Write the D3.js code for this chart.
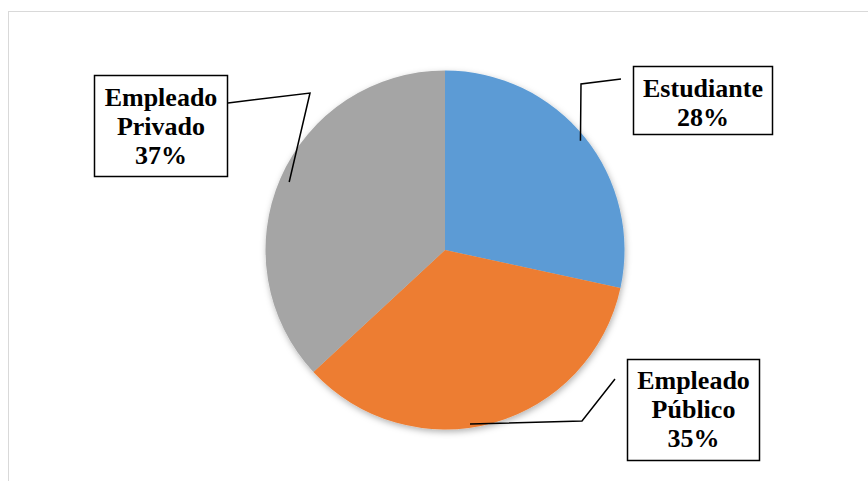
<!DOCTYPE html>
<html>
<head>
<meta charset="utf-8">
<script src="https://cdn.jsdelivr.net/npm/d3@7/dist/d3.min.js"></script>
<style>
html,body{margin:0;padding:0;background:#fff;}
svg{display:block;}
</style>
</head>
<body>
<svg id="chart" width="868" height="481"></svg>
<script>
// Data
const categories = ["Estudiante", "Empleado Público", "Empleado Privado"];
const labelLines = [["Estudiante"], ["Empleado", "Público"], ["Empleado", "Privado"]];
const values = [28.4, 34.7, 36.9];
const percentLabels = ["28%", "35%", "37%"];
const colors = ["#5B9BD5", "#ED7D31", "#A5A5A5"];

// Layout
const W = 868, H = 481;
const cx = 445, cy = 250, R = 179.5;
const boxes = [
  {x: 633, y: 66, w: 139, h: 68, first: 97},
  {x: 627, y: 359, w: 132, h: 101, first: 389},
  {x: 94, y: 75, w: 133, h: 101, first: 106}
];
const leaders = [
  [[621, 79], [581, 84]],
  [[615, 379], [582, 421]],
  [[228, 103], [310, 93]]
];
const lineGap = 29;

const svg = d3.select("#chart");

// chart area border
svg.append("rect").attr("x", 8.5).attr("y", 11.5).attr("width", 900).attr("height", 500)
  .attr("fill", "#fff").attr("stroke", "#D9D9D9").attr("stroke-width", 1);

const defs = svg.append("defs");
const f = defs.append("filter").attr("id", "sh").attr("x", "-20%").attr("y", "-20%").attr("width", "140%").attr("height", "140%");
f.append("feDropShadow").attr("dx", 1).attr("dy", 2.5).attr("stdDeviation", 3)
  .attr("flood-color", "#000").attr("flood-opacity", 0.3);

const pie = d3.pie().sort(null).value(d => d)(values);
const arc = d3.arc().innerRadius(0).outerRadius(R);

const g = svg.append("g").attr("transform", `translate(${cx},${cy})`);
g.append("g").attr("filter", "url(#sh)")
  .selectAll("path").data(pie).join("path")
  .attr("d", arc).attr("fill", (d, i) => colors[i]);

// leader lines
const endR = [174, 0, 170];
pie.forEach((d, i) => {
  const pts = leaders[i].slice();
  if (i === 1) {
    pts.push([470, 424]);
  } else {
    const a = (d.startAngle + d.endAngle) / 2;
    pts.push([cx + endR[i] * Math.sin(a), cy - endR[i] * Math.cos(a)]);
  }
  svg.append("path").attr("d", d3.line()(pts))
    .attr("fill", "none").attr("stroke", "#000").attr("stroke-width", 1.5);
});

// label boxes
boxes.forEach((b, i) => {
  svg.append("rect").attr("x", b.x + 0.5).attr("y", b.y + 0.5).attr("width", b.w).attr("height", b.h)
    .attr("fill", "#fff").attr("stroke", "#000").attr("stroke-width", 1.5);
  const lines = labelLines[i].concat([percentLabels[i]]);
  const t = svg.append("text")
    .attr("font-family", "'Liberation Serif','Times New Roman',serif")
    .attr("font-weight", "bold").attr("font-size", 26).attr("fill", "#000")
    .attr("text-anchor", "middle");
  lines.forEach((s, k) => {
    t.append("tspan").attr("x", b.x + b.w / 2 + 0.5).attr("y", b.first + k * lineGap).text(s);
  });
});
</script>
</body>
</html>
